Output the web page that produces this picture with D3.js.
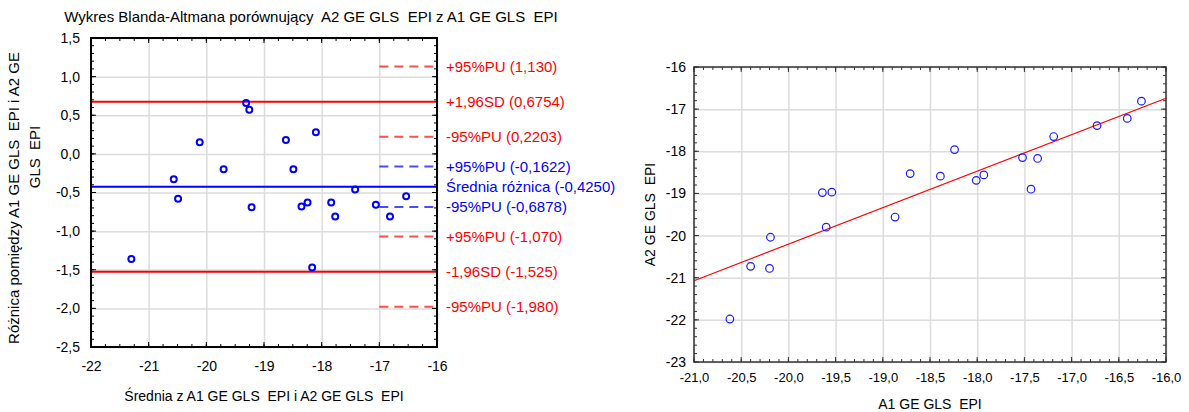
<!DOCTYPE html>
<html>
<head>
<meta charset="utf-8">
<script src="https://cdn.jsdelivr.net/npm/d3@7"></script>
<style>
  body { margin: 0; background: #fff; }
  svg { display: block; }
  text { font-family: "Liberation Sans", Arial, sans-serif; fill: #000; white-space: pre; }
</style>
</head>
<body>
<svg id="chart" width="1189" height="412"></svg>
<script>
// Paired measurements: A1 GE GLS EPI and A2 GE GLS EPI
const a1 = [-20.62, -20.40, -20.20, -20.19, -19.60, -19.64, -19.54, -18.87, -18.71, -18.39,
            -18.01, -17.93, -17.43, -18.24, -17.52, -17.36, -17.19, -16.73, -16.41, -16.26];
const a2 = [-21.98, -20.73, -20.78, -20.04, -19.80, -18.98, -18.97, -19.56, -18.53, -18.59,
            -18.69, -18.56, -18.90, -17.96, -18.15, -18.17, -17.65, -17.39, -17.22, -16.81];

// Bland-Altman reference lines (value, label, kind, group)
const limitValues = [1.130, 0.6754, 0.2203, -0.1622, -0.4250, -0.6878, -1.070, -1.525, -1.980];
const limitLabels = ["+95%PU (1,130)", "+1,96SD (0,6754)", "-95%PU (0,2203)",
                     "+95%PU (-0,1622)", "Średnia różnica (-0,4250)", "-95%PU (-0,6878)",
                     "+95%PU (-1,070)", "-1,96SD (-1,525)", "-95%PU (-1,980)"];
const limitKinds  = ["ci", "line", "ci", "ci", "line", "ci", "ci", "line", "ci"];
const limitGroups = ["loa", "loa", "loa", "mean", "mean", "mean", "loa", "loa", "loa"];

// Axis ticks
const baXTicks = [-22, -21, -20, -19, -18, -17, -16];
const baYTicks = [1.5, 1.0, 0.5, 0.0, -0.5, -1.0, -1.5, -2.0, -2.5];
const scXTicks = [-21.0, -20.5, -20.0, -19.5, -19.0, -18.5, -18.0, -17.5, -17.0, -16.5, -16.0];
const scYTicks = [-16, -17, -18, -19, -20, -21, -22, -23];

// Text
const baTitle = "Wykres Blanda-Altmana porównujący  A2 GE GLS  EPI z A1 GE GLS  EPI";
const baXTitle = "Średnia z A1 GE GLS  EPI i A2 GE GLS  EPI";
const baYTitle = ["Różnica pomiędzy A1 GE GLS  EPI i A2 GE", "GLS  EPI"];
const scXTitle = "A1 GE GLS  EPI";
const scYTitle = "A2 GE GLS  EPI";

const loc = d3.formatLocale({decimal: ",", thousands: " ", grouping: [3], currency: ["", ""], minus: "-"});
const f1 = loc.format(".1f");
const f0 = loc.format("d");

const svg = d3.select("#chart");
const GRID = "#dcdcdc";

function frameTicks(g, x, y, xMajor, yMajor, xMinorStep, yMinorStep, box, color) {
  const [xa, xb] = x.domain(), [ya, yb] = y.domain();
  const minor = (a, b, s) => d3.range(Math.round(Math.min(a, b) / s), Math.round(Math.max(a, b) / s) + 1).map(k => k * s);
  const xm = minor(xa, xb, xMinorStep), ym = minor(ya, yb, yMinorStep);
  const t = g.append("g").attr("stroke", color).attr("stroke-width", 1);
  xm.forEach(v => {
    const px = x(v);
    t.append("line").attr("x1", px).attr("x2", px).attr("y1", box.y1).attr("y2", box.y1 - 3);
    t.append("line").attr("x1", px).attr("x2", px).attr("y1", box.y0).attr("y2", box.y0 + 3);
  });
  ym.forEach(v => {
    const py = y(v);
    t.append("line").attr("y1", py).attr("y2", py).attr("x1", box.x0).attr("x2", box.x0 + 3);
    t.append("line").attr("y1", py).attr("y2", py).attr("x1", box.x1).attr("x2", box.x1 - 3);
  });
  xMajor.forEach(v => {
    const px = x(v);
    t.append("line").attr("x1", px).attr("x2", px).attr("y1", box.y1).attr("y2", box.y1 - 5);
    t.append("line").attr("x1", px).attr("x2", px).attr("y1", box.y0).attr("y2", box.y0 + 5);
  });
  yMajor.forEach(v => {
    const py = y(v);
    t.append("line").attr("y1", py).attr("y2", py).attr("x1", box.x0).attr("x2", box.x0 + 5);
    t.append("line").attr("y1", py).attr("y2", py).attr("x1", box.x1).attr("x2", box.x1 - 5);
  });
}

// ---------- Bland-Altman plot ----------
{
  const box = {x0: 91, x1: 437, y0: 38, y1: 347};
  const x = d3.scaleLinear().domain(d3.extent(baXTicks)).range([box.x0, box.x1]);
  const y = d3.scaleLinear().domain(d3.extent(baYTicks)).range([box.y1, box.y0]);
  const g = svg.append("g");

  const means = a1.map((v, i) => (v + a2[i]) / 2);
  const diffs = a1.map((v, i) => a2[i] - v);

  // grid
  g.append("g").attr("transform", `translate(0,${box.y1})`)
    .call(d3.axisBottom(x).tickValues(baXTicks).tickSize(-(box.y1 - box.y0)).tickFormat(""))
    .call(s => s.select(".domain").remove())
    .selectAll("line").attr("stroke", GRID).attr("stroke-width", 1.5);
  g.append("g").attr("transform", `translate(${box.x0},0)`)
    .call(d3.axisLeft(y).tickValues(baYTicks).tickSize(-(box.x1 - box.x0)).tickFormat(""))
    .call(s => s.select(".domain").remove())
    .selectAll("line").attr("stroke", GRID).attr("stroke-width", 1.5);

  // reference lines
  const colorOf = i => limitGroups[i] === "mean" ? "#0000ff" : "#ff0000";
  limitValues.forEach((v, i) => {
    const dashed = limitKinds[i] === "ci";
    g.append("line")
      .attr("x1", dashed ? x(-17) : x(baXTicks[0]))
      .attr("x2", x(baXTicks[baXTicks.length - 1]))
      .attr("y1", y(v)).attr("y2", y(v))
      .attr("stroke", colorOf(i))
      .attr("stroke-opacity", dashed ? 0.7 : 1)
      .attr("stroke-width", 2)
      .attr("stroke-dasharray", dashed ? "9,6" : null);
    g.append("text")
      .attr("x", box.x1 + 9).attr("y", y(v)).attr("dy", "0.36em")
      .attr("font-size", 15)
      .style("fill", colorOf(i))
      .text(limitLabels[i]);
  });

  // points
  g.append("g").selectAll("circle").data(means).join("circle")
    .attr("cx", d => x(d)).attr("cy", (d, i) => y(diffs[i]))
    .attr("r", 3).attr("fill", "none").attr("stroke", "#0000ff").attr("stroke-width", 2);

  // frame and ticks
  frameTicks(g, x, y, baXTicks, baYTicks, 0.25, 0.1, box, "#000");
  g.append("rect").attr("x", box.x0).attr("y", box.y0)
    .attr("width", box.x1 - box.x0).attr("height", box.y1 - box.y0)
    .attr("fill", "none").attr("stroke", "#000").attr("stroke-width", 2);

  // tick labels
  g.append("g").attr("transform", `translate(0,${box.y1})`)
    .call(d3.axisBottom(x).tickValues(baXTicks).tickSize(0).tickPadding(14).tickFormat(f0))
    .call(s => s.select(".domain").remove())
    .selectAll("text").attr("font-size", 14).attr("font-family", null);
  g.append("g").attr("transform", `translate(${box.x0},0)`)
    .call(d3.axisLeft(y).tickValues(baYTicks).tickSize(0).tickPadding(11).tickFormat(f1))
    .call(s => s.select(".domain").remove())
    .selectAll("text").attr("font-size", 14).attr("font-family", null);

  // titles
  svg.append("text").attr("x", 311).attr("y", 22).attr("text-anchor", "middle")
    .attr("font-size", 15).text(baTitle);
  svg.append("text").attr("x", (box.x0 + box.x1) / 2).attr("y", 401).attr("text-anchor", "middle")
    .attr("font-size", 14).text(baXTitle);
  svg.append("text").attr("transform", "translate(19,198) rotate(-90)").attr("text-anchor", "middle")
    .attr("font-size", 15).text(baYTitle[0]);
  svg.append("text").attr("transform", "translate(40,157) rotate(-90)").attr("text-anchor", "middle")
    .attr("font-size", 15).text(baYTitle[1]);
}

// ---------- Scatter plot with linear fit ----------
{
  const box = {x0: 694, x1: 1166, y0: 67, y1: 362};
  const x = d3.scaleLinear().domain(d3.extent(scXTicks)).range([box.x0, box.x1]);
  const y = d3.scaleLinear().domain(d3.extent(scYTicks)).range([box.y1, box.y0]);
  const g = svg.append("g");

  g.append("g").attr("transform", `translate(0,${box.y1})`)
    .call(d3.axisBottom(x).tickValues(scXTicks).tickSize(-(box.y1 - box.y0)).tickFormat(""))
    .call(s => s.select(".domain").remove())
    .selectAll("line").attr("stroke", GRID).attr("stroke-width", 1.5);
  g.append("g").attr("transform", `translate(${box.x0},0)`)
    .call(d3.axisLeft(y).tickValues(scYTicks).tickSize(-(box.x1 - box.x0)).tickFormat(""))
    .call(s => s.select(".domain").remove())
    .selectAll("line").attr("stroke", GRID).attr("stroke-width", 1.5);

  // least-squares fit of A2 on A1
  const mx = d3.mean(a1), my = d3.mean(a2);
  const sxy = d3.sum(a1, (v, i) => (v - mx) * (a2[i] - my));
  const sxx = d3.sum(a1, v => (v - mx) ** 2);
  const slope = sxy / sxx, icpt = my - slope * mx;
  const [xa, xb] = x.domain();
  g.append("line")
    .attr("x1", x(xa)).attr("y1", y(icpt + slope * xa))
    .attr("x2", x(xb)).attr("y2", y(icpt + slope * xb))
    .attr("stroke", "#ff0000").attr("stroke-width", 1.2);

  g.append("g").selectAll("circle").data(a1).join("circle")
    .attr("cx", d => x(d)).attr("cy", (d, i) => y(a2[i]))
    .attr("r", 3.8).attr("fill", "none").attr("stroke", "#1a1aff").attr("stroke-width", 1.2);

  frameTicks(g, x, y, scXTicks, scYTicks, 0.1, 0.2, box, "#333");
  g.append("rect").attr("x", box.x0).attr("y", box.y0)
    .attr("width", box.x1 - box.x0).attr("height", box.y1 - box.y0)
    .attr("fill", "none").attr("stroke", "#333").attr("stroke-width", 1.5);

  g.append("g").attr("transform", `translate(0,${box.y1})`)
    .call(d3.axisBottom(x).tickValues(scXTicks).tickSize(0).tickPadding(11).tickFormat(f1))
    .call(s => s.select(".domain").remove())
    .selectAll("text").attr("font-size", 13).attr("font-family", null);
  g.append("g").attr("transform", `translate(${box.x0},0)`)
    .call(d3.axisLeft(y).tickValues(scYTicks).tickSize(0).tickPadding(8).tickFormat(f0))
    .call(s => s.select(".domain").remove())
    .selectAll("text").attr("font-size", 14).attr("font-family", null);

  svg.append("text").attr("x", (box.x0 + box.x1) / 2).attr("y", 409).attr("text-anchor", "middle")
    .attr("font-size", 14).text(scXTitle);
  svg.append("text").attr("transform", `translate(655,${(box.y0 + box.y1) / 2}) rotate(-90)`)
    .attr("text-anchor", "middle").attr("font-size", 14).text(scYTitle);
}
</script>
</body>
</html>
